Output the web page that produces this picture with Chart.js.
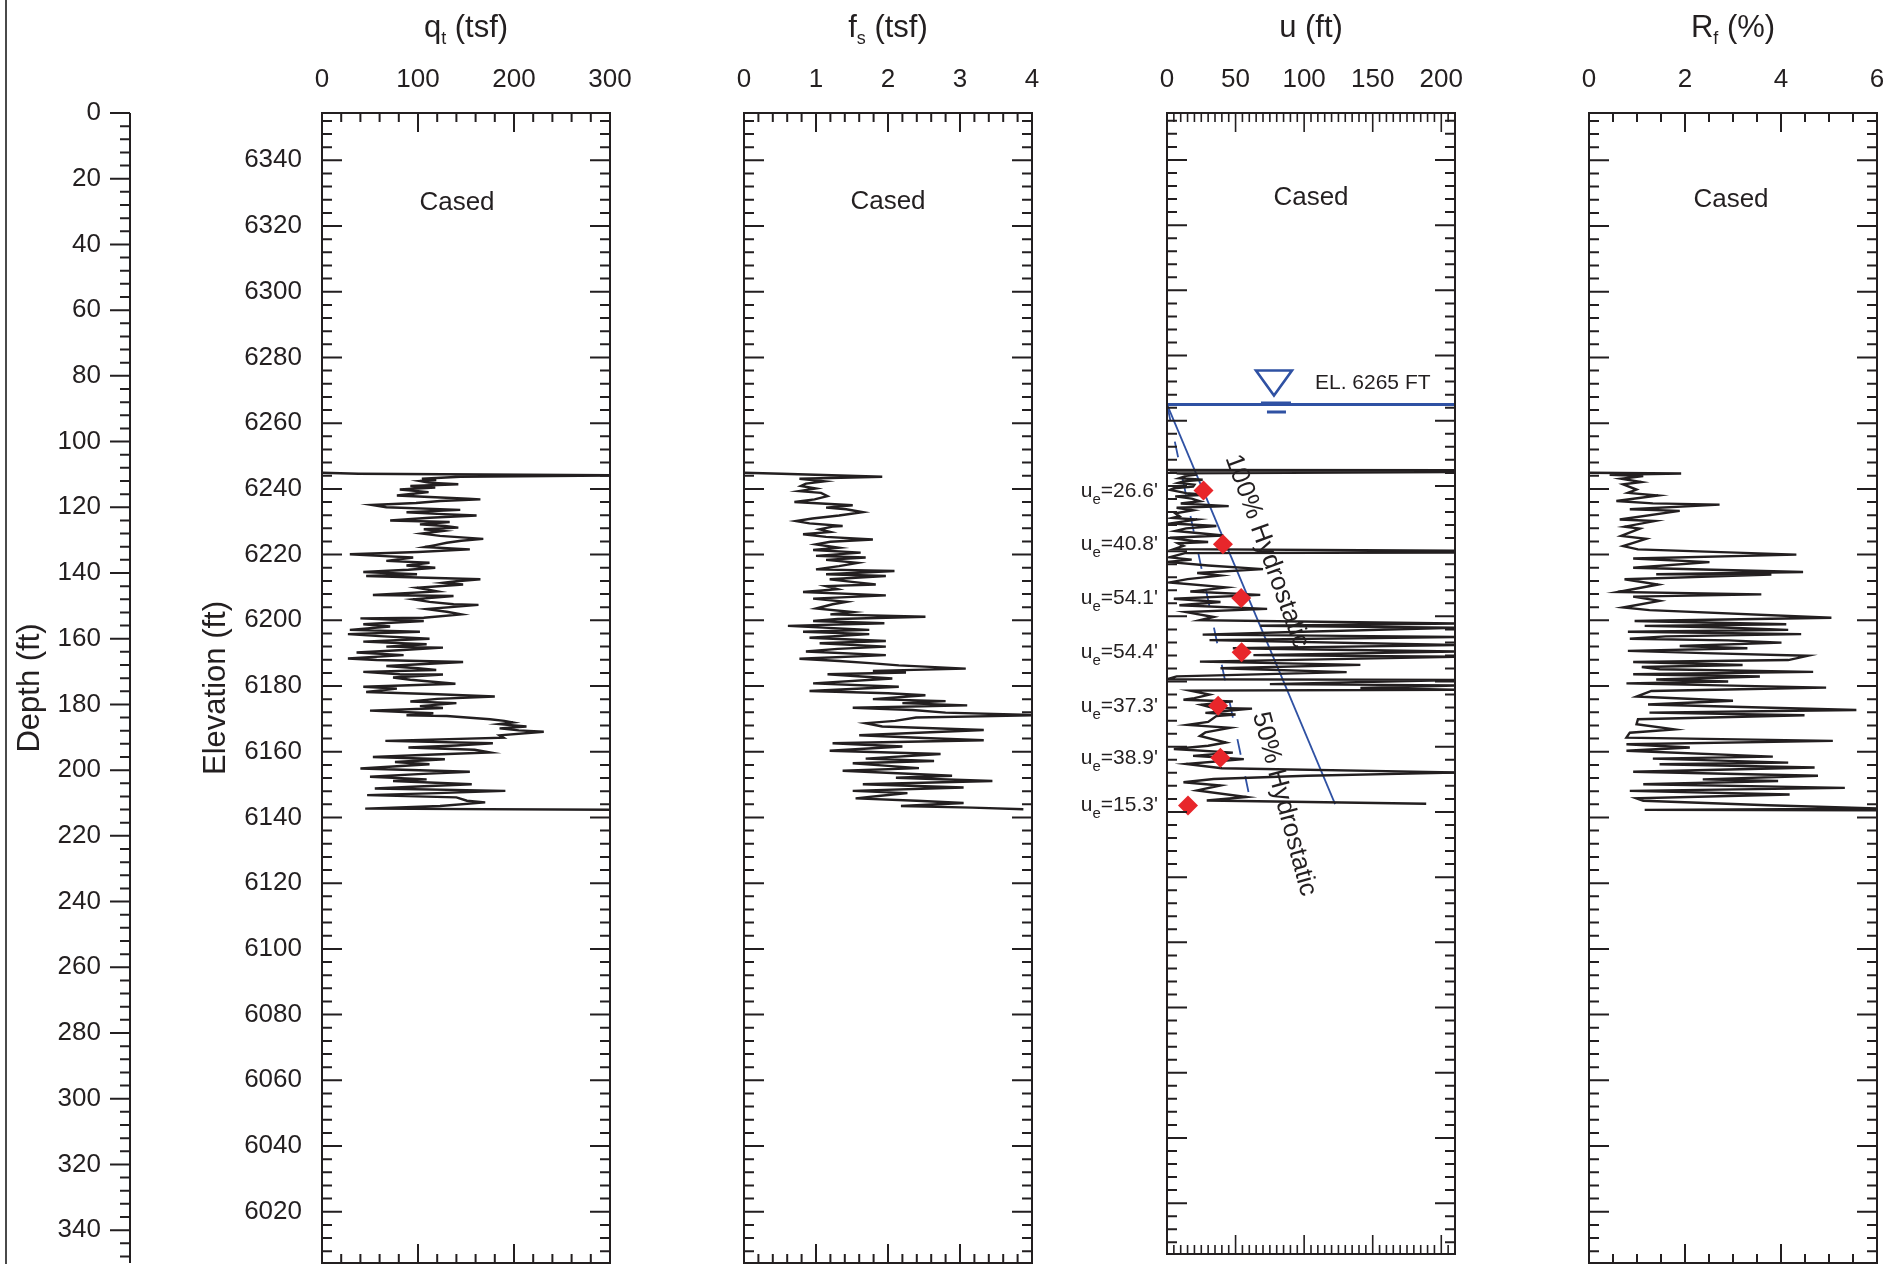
<!DOCTYPE html>
<html lang="en">
<head>
<meta charset="utf-8">
<title>CPT sounding log</title>
<script src="https://cdn.jsdelivr.net/npm/chart.js@4.4.1/dist/chart.umd.min.js"></script>
<style>
  html, body { margin: 0; padding: 0; background: #fff; }
  #sheet { position: relative; width: 1886px; height: 1264px; overflow: hidden; background: #fff; }
  #sheet canvas { position: absolute; top: 0; }
</style>
</head>
<body>
<div id="sheet">
  <canvas id="depthAxis" width="140" height="1264" style="left:0px"></canvas>
  <canvas id="qtChart" width="460" height="1264" style="left:180px"></canvas>
  <canvas id="fsChart" width="428" height="1264" style="left:634px"></canvas>
  <canvas id="uChart" width="428" height="1264" style="left:1057px"></canvas>
  <canvas id="rfChart" width="407" height="1264" style="left:1479px"></canvas>
</div>
<script>
// Sounding data, depth in ft below ground surface
const groundElevation = 6354.4
const waterElevation = 6265
const soundingEnd = 212

const depthTicks = [0, 20, 40, 60, 80, 100, 120, 140, 160, 180, 200, 220, 240, 260, 280, 300, 320, 340]
const elevationTicks = [6340, 6320, 6300, 6280, 6260, 6240, 6220, 6200, 6180, 6160, 6140, 6120, 6100, 6080, 6060, 6040, 6020]
const qtTicks = [0, 100, 200, 300]
const fsTicks = [0, 1, 2, 3, 4]
const uTicks = [0, 50, 100, 150, 200]
const rfTicks = [0, 2, 4, 6]

// cone resistance qt (tsf)
const qtDepth = [
  109.5, 109.8, 110.3, 110.7, 111.3, 111.7, 112.0, 112.5, 113.0, 113.5,
  114.0, 114.6, 115.4, 115.9, 116.4, 117.4, 117.6, 118.1, 118.7, 119.3,
  120.0, 120.8, 121.5, 122.0, 122.5, 123.2, 124.0, 124.5, 125.2, 125.7,
  126.2, 126.7, 127.2, 128.0, 128.7, 129.6, 130.2, 130.8, 131.5, 132.1,
  132.8, 133.6, 134.3, 134.8, 135.3, 136.3, 136.9, 137.7, 138.4, 139.0,
  139.7, 140.4, 140.9, 141.9, 142.5, 143.0, 143.5, 144.5, 145.6, 146.7,
  147.0, 148.0, 148.8, 149.5, 149.7, 151.0, 151.8, 152.6, 153.6, 153.8,
  154.6, 155.6, 156.3, 157.3, 157.9, 158.6, 159.2, 160.0, 160.9, 161.7,
  162.4, 162.7, 163.5, 164.2, 165.0, 166.0, 166.5, 167.1, 168.3, 169.0,
  169.5, 170.1, 170.8, 170.9, 171.8, 172.5, 173.7, 174.6, 175.2, 176.2,
  176.9, 177.6, 178.3, 179.1, 179.6, 180.5, 181.1, 181.9, 182.7, 183.3,
  183.5, 184.5, 185.0, 185.5, 186.0, 186.7, 187.3, 187.9, 188.3, 189.4,
  190.1, 191.1, 191.8, 192.5, 193.1, 193.8, 194.6, 195.3, 196.0, 196.7,
  197.5, 198.2, 199.5, 200.5, 201.2, 202.0, 202.8, 203.3, 204.3, 205.0,
  205.6, 206.3, 207.0, 207.6, 208.3, 209.3, 209.8, 210.9, 211.7, 212.1
]
const qtValue = [
  0, 38, 320, 144, 104, 119, 102, 111, 142, 92,
  118, 81, 111, 95, 78, 152, 165, 123, 98, 52,
  67, 144, 88, 120, 161, 112, 71, 133, 102, 128,
  142, 106, 126, 104, 123, 168, 145, 130, 118, 107,
  154, 100, 29, 60, 95, 67, 112, 88, 118, 90,
  43, 99, 46, 165, 140, 126, 147, 99, 120, 53,
  137, 95, 112, 137, 163, 109, 130, 145, 106, 40,
  106, 43, 71, 29, 102, 27, 60, 112, 43, 109,
  67, 126, 80, 36, 85, 27, 57, 147, 67, 100,
  119, 43, 81, 126, 74, 92, 139, 43, 78, 46,
  120, 180, 120, 92, 140, 102, 126, 50, 116, 88,
  130, 175, 190, 199, 185, 213, 185, 205, 231, 185,
  189, 66, 178, 140, 90, 159, 175, 110, 53, 128,
  76, 112, 40, 154, 100, 50, 109, 74, 156, 100,
  55, 191, 120, 47, 140, 151, 170, 123, 45, 320
]

// sleeve friction fs (tsf)
const fsDepth = [
  109.5, 109.8, 110.7, 111.3, 112.1, 112.8, 113.5, 114.3, 115.1, 115.6,
  116.6, 117.6, 118.4, 119.4, 120.1, 120.6, 121.5, 122.5, 123.4, 124.2,
  124.9, 125.7, 125.9, 126.7, 127.5, 128.2, 129.0, 129.8, 130.5, 131.3,
  132.3, 133.0, 133.8, 134.8, 135.3, 136.0, 136.9, 137.9, 138.9, 139.4,
  140.4, 140.9, 141.9, 142.7, 143.5, 144.0, 144.9, 145.8, 146.8, 147.8,
  148.8, 149.5, 150.8, 151.9, 152.6, 153.3, 154.0, 154.6, 155.3, 156.1,
  157.3, 157.9, 158.6, 159.7, 160.7, 161.4, 162.4, 163.1, 163.9, 165.0,
  166.1, 166.8, 167.5, 168.1, 169.1, 169.8, 170.3, 170.8, 172.1, 173.6,
  174.6, 175.9, 176.6, 177.2, 178.4, 179.0, 179.6, 180.3, 181.0, 181.7,
  182.5, 183.3, 184.0, 185.0, 185.7, 186.7, 187.8, 189.4, 190.2, 190.9,
  191.8, 192.8, 194.1, 195.1, 196.5, 197.2, 197.9, 198.7, 199.4, 200.2,
  201.7, 202.3, 203.3, 204.3, 205.3, 206.3, 207.0, 207.8, 208.6, 209.3,
  210.0, 210.9, 211.4, 211.9
]
const fsValue = [
  0, 0.52, 1.92, 0.77, 1.12, 0.86, 0.79, 1.00, 0.77, 1.07,
  1.16, 0.98, 0.70, 1.51, 1.14, 1.42, 1.65, 1.32, 0.95, 0.72,
  0.91, 1.37, 1.23, 1.05, 1.20, 0.82, 1.14, 1.79, 1.20, 1.00,
  1.32, 0.96, 1.62, 1.00, 1.69, 1.14, 1.58, 1.32, 1.00, 2.09,
  1.14, 1.97, 1.19, 1.50, 1.83, 1.14, 1.30, 0.82, 1.97, 0.96,
  1.42, 1.23, 1.00, 1.51, 1.20, 2.52, 1.30, 0.96, 1.95, 0.61,
  1.74, 0.82, 1.74, 0.91, 1.97, 1.05, 1.97, 1.30, 0.86, 1.97,
  0.77, 1.32, 1.80, 2.15, 3.08, 1.79, 2.25, 1.16, 2.06, 0.96,
  2.15, 0.91, 2.00, 2.52, 1.79, 2.80, 2.20, 3.10, 1.51, 2.34,
  2.80, 4.10, 2.39, 2.10, 1.69, 1.92, 3.33, 1.60, 2.50, 3.33,
  1.23, 2.20, 1.19, 2.73, 1.69, 2.64, 1.51, 2.00, 2.43, 1.37,
  2.89, 2.11, 3.45, 1.65, 3.05, 1.51, 2.27, 1.90, 1.55, 2.40,
  3.05, 2.18, 3.17, 3.88
]

// pore pressure u (ft of water)
const uDepth = [
  109.5, 109.6, 109.9, 110.1, 110.5, 110.9, 111.3, 112.0, 112.5, 113.0,
  113.5, 114.0, 114.6, 115.1, 115.6, 116.6, 117.1, 117.6, 118.3, 119.1,
  119.8, 120.6, 121.1, 121.9, 122.8, 123.7, 124.2, 124.7, 125.9, 126.7,
  127.4, 128.2, 128.9, 129.6, 130.3, 131.3, 131.6, 132.0, 132.8, 133.8,
  134.3, 134.8, 135.0, 136.3, 137.0, 137.7, 138.8, 139.9, 141.1, 141.9,
  143.0, 144.0, 145.5, 146.8, 147.8, 149.0, 150.0, 151.0, 152.1, 153.1,
  154.6, 155.6, 156.6, 157.3, 157.9, 159.2, 160.0, 160.7, 161.7, 163.2,
  164.2, 165.2, 166.3, 166.8, 168.3, 169.3, 170.3, 171.5, 172.8, 173.7,
  173.9, 175.2, 175.6, 176.4, 176.9, 177.2, 178.4, 179.5, 180.0, 180.5,
  181.5, 182.5, 182.7, 184.0, 184.5, 185.0, 186.8, 187.7, 188.6, 190.0,
  191.1, 193.1, 194.1, 195.1, 196.2, 197.2, 198.2, 199.7, 201.0, 202.3,
  203.3, 204.3, 205.3, 206.3, 207.8, 209.8, 210.9, 211.9
]
const uValue = [
  0, 214, 2, 214, 7, 22, 14, 9, 26, 12,
  8, 20, 19, 5, 2, 14, 28, 6, 18, 24,
  10, 45, 7, 19, 6, 9, 4, 22, 3, 36,
  14, 6, 24, 41, 2, 19, 30, 8, 12, 5,
  214, 214, 13, 2, 18, 0, 30, 70, 22, 39,
  15, 2, 43, 17, 68, 5, 39, 9, 73, 14,
  34, 24, 214, 68, 214, 92, 26, 214, 31, 214,
  48, 214, 63, 214, 24, 141, 39, 131, 7, 0,
  214, 75, 214, 141, 214, 17, 31, 20, 12, 48,
  25, 34, 62, 28, 50, 36, 30, 15, 46, 28,
  24, 43, 30, 5, 48, 19, 56, 14, 40, 214,
  102, 34, 12, 39, 22, 58, 29, 189
]

// friction ratio Rf (%)
const rfDepth = [
  109.5, 109.7, 110.1, 110.5, 111.3, 112.3, 113.0, 114.6, 115.6, 116.4,
  118.1, 118.8, 119.2, 120.6, 121.1, 123.7, 124.2, 125.9, 126.5, 128.7,
  129.6, 131.8, 132.8, 134.4, 135.6, 136.7, 138.4, 139.7, 140.4, 140.5,
  141.9, 143.5, 145.8, 146.5, 147.2, 148.5, 150.5, 151.3, 153.6, 154.6,
  155.6, 156.1, 156.6, 157.3, 157.9, 158.6, 159.3, 160.0, 160.5, 161.2,
  162.2, 162.9, 163.7, 164.4, 165.2, 166.5, 167.1, 168.0, 168.6, 169.3,
  170.1, 170.8, 171.5, 172.4, 173.0, 173.6, 174.9, 175.4, 175.9, 177.6,
  178.9, 180.0, 181.7, 182.5, 183.3, 184.5, 186.0, 187.6, 188.6, 190.1,
  191.1, 192.1, 193.1, 194.1, 195.9, 196.5, 197.7, 198.2, 199.2, 200.5,
  201.7, 202.8, 203.3, 204.3, 205.4, 206.3, 207.4, 208.6, 209.3, 210.7,
  211.7, 212.1, 212.2
]
const rfValue = [
  0, 1.92, 0.43, 1.13, 0.67, 1.09, 0.71, 0.99, 0.81, 1.44,
  0.57, 1.33, 2.72, 0.85, 1.89, 0.64, 1.37, 0.74, 1.06, 0.67,
  1.19, 0.71, 1.02, 4.32, 0.92, 2.51, 0.92, 4.46, 1.40, 3.80,
  0.74, 1.44, 0.60, 3.59, 0.92, 1.47, 0.71, 1.26, 5.05, 0.95,
  4.11, 1.16, 2.80, 4.15, 0.81, 4.42, 1.60, 0.85, 2.90, 4.01,
  1.89, 3.30, 0.81, 2.40, 4.56, 4.15, 0.92, 3.20, 1.10, 1.47,
  4.67, 0.92, 3.56, 1.40, 2.90, 0.78, 4.94, 3.14, 1.30, 0.99,
  3.00, 1.23, 5.57, 1.26, 4.49, 1.02, 0.99, 1.78, 0.85, 0.78,
  5.08, 0.78, 2.10, 0.78, 3.83, 1.33, 4.15, 1.47, 4.70, 0.92,
  4.77, 2.37, 3.94, 1.13, 5.33, 0.85, 4.18, 0.99, 1.13, 3.73,
  6.06, 1.16, 6.50
]

// pore pressure dissipation tests: depth (ft) and equilibrium head ue (ft)
const dissipationDepth = [115.8, 132.3, 148.8, 165.4, 181.8, 197.8, 212.4]
const ueValues = [26.6, 40.8, 54.1, 54.4, 37.3, 38.9, 15.3]

// ---- look ----
const INK = '#231f20'
const BLUE = '#2f51a3'
const RED = '#e8262b'
const FONT = "'Liberation Sans', Arial, Helvetica, sans-serif"
const DEPTH_MAX = 350
const PLOT_TOP = 113
const WATER_MARK_U = 78

Chart.defaults.font.family = FONT
Chart.defaults.color = INK

const font = px => px + 'px ' + FONT
const waterDepth = groundElevation - waterElevation
const pts = (depth, value) => depth.map((d, i) => ({ x: value[i], y: d }))

function traceSet (depth, value) {
  return {
    data: pts(depth, value),
    showLine: true,
    borderColor: INK,
    borderWidth: 2.4,
    pointRadius: 0,
    tension: 0
  }
}

function drawTitle (ctx, cx, y, main, sub, rest) {
  ctx.font = font(31)
  const w1 = ctx.measureText(main).width
  const w3 = ctx.measureText(rest).width
  ctx.font = font(18)
  const w2 = sub ? ctx.measureText(sub).width : 0
  let x = cx - (w1 + w2 + w3) / 2
  ctx.textAlign = 'left'
  ctx.textBaseline = 'alphabetic'
  ctx.font = font(31)
  ctx.fillText(main, x, y)
  x += w1
  if (sub) {
    ctx.font = font(18)
    ctx.fillText(sub, x, y + 7)
    x += w2
  }
  ctx.font = font(31)
  ctx.fillText(rest, x, y)
}

// box around a panel with inward tick marks (elevation ticks on the sides)
function panelFrame (xTicks, xMinorStep, xMax) {
  return {
    id: 'panelFrame',
    afterDatasetsDraw (chart) {
      const { ctx, chartArea: a } = chart
      const xs = chart.scales.x
      const ys = chart.scales.y
      ctx.save()
      ctx.strokeStyle = INK
      ctx.lineWidth = 2
      ctx.beginPath()
      for (let e = Math.floor(groundElevation / 4) * 4; e > groundElevation - DEPTH_MAX; e -= 4) {
        const len = e % 20 === 0 ? 20 : 10
        const py = ys.getPixelForValue(groundElevation - e)
        ctx.moveTo(a.left, py); ctx.lineTo(a.left + len, py)
        ctx.moveTo(a.right, py); ctx.lineTo(a.right - len, py)
      }
      ctx.stroke()
      ctx.lineWidth = xMax / xMinorStep > 30 ? 1.6 : 2
      ctx.beginPath()
      const n = Math.round(xMax / xMinorStep)
      for (let i = 1; i < n; i++) {
        const v = i * xMinorStep
        const len = xTicks.some(t => Math.abs(t - v) < 1e-6) ? 19 : 9
        const px = xs.getPixelForValue(v)
        ctx.moveTo(px, a.top); ctx.lineTo(px, a.top + len)
        ctx.moveTo(px, a.bottom); ctx.lineTo(px, a.bottom - len)
      }
      ctx.stroke()
      ctx.lineWidth = 2
      ctx.strokeRect(a.left, a.top, a.right - a.left, a.bottom - a.top)
      ctx.restore()
    }
  }
}

function panelText (title, casedShift, casedBaseline, extra) {
  return {
    id: 'panelText',
    afterDraw (chart) {
      const { ctx, chartArea: a } = chart
      const cx = (a.left + a.right) / 2
      ctx.save()
      ctx.fillStyle = INK
      drawTitle(ctx, cx, 37, title[0], title[1], title[2])
      ctx.font = font(26)
      ctx.textAlign = 'center'
      ctx.fillText('Cased', cx + casedShift, casedBaseline)
      if (extra) extra(chart, ctx)
      ctx.restore()
    }
  }
}

function makePanel (canvasId, p) {
  const scales = {
    x: {
      type: 'linear',
      position: 'top',
      min: 0,
      max: p.xMax,
      afterBuildTicks: ax => { ax.ticks = p.xTicks.map(v => ({ value: v })) },
      afterFit: ax => { ax.height = PLOT_TOP; ax.paddingLeft = 0; ax.paddingRight = 0 },
      grid: { display: false, drawTicks: false },
      border: { display: false },
      ticks: { font: { size: 26 }, color: INK, padding: 18, maxRotation: 0, autoSkip: false, callback: v => String(v) }
    },
    y: { type: 'linear', reverse: true, min: 0, max: DEPTH_MAX, display: false }
  }
  if (p.elevation) {
    scales.elev = {
      type: 'linear',
      position: 'left',
      min: groundElevation - DEPTH_MAX,
      max: groundElevation,
      afterBuildTicks: ax => { ax.ticks = elevationTicks.map(v => ({ value: v })) },
      afterFit: ax => { ax.width = p.padLeft; ax.paddingTop = 0; ax.paddingBottom = 0 },
      grid: { display: false, drawTicks: false },
      border: { display: false },
      ticks: { font: { size: 26 }, color: INK, padding: 20, autoSkip: false, callback: v => String(v) },
      title: { display: true, text: 'Elevation (ft)', font: { size: 31 }, color: INK, padding: { top: 18, bottom: 0 } }
    }
  }
  return new Chart(document.getElementById(canvasId), {
    type: 'scatter',
    data: { datasets: p.datasets },
    options: {
      responsive: false,
      animation: false,
      devicePixelRatio: 1,
      events: [],
      layout: { padding: { left: p.elevation ? 0 : p.padLeft, right: p.padRight, top: 0, bottom: 1 } },
      plugins: { legend: { display: false }, tooltip: { enabled: false } },
      scales
    },
    plugins: [panelFrame(p.xTicks, p.xMinorStep, p.xMax), panelText(p.title, p.casedShift, p.casedBaseline, p.extra)]
  })
}

// ---- depth axis on the far left ----
new Chart(document.getElementById('depthAxis'), {
  type: 'scatter',
  data: { datasets: [] },
  options: {
    responsive: false,
    animation: false,
    devicePixelRatio: 1,
    events: [],
    layout: { padding: { left: 0, right: 0, top: PLOT_TOP, bottom: 1 } },
    plugins: { legend: { display: false }, tooltip: { enabled: false } },
    scales: {
      x: { type: 'linear', display: false, min: 0, max: 1 },
      y: {
        type: 'linear',
        position: 'left',
        reverse: true,
        min: 0,
        max: DEPTH_MAX,
        afterBuildTicks: ax => { ax.ticks = depthTicks.map(v => ({ value: v })) },
        afterFit: ax => { ax.width = 130; ax.paddingTop = 0; ax.paddingBottom = 0 },
        grid: { display: false, drawTicks: false },
        border: { display: false },
        ticks: { font: { size: 26 }, color: INK, padding: 29, autoSkip: false, callback: v => String(v) },
        title: { display: true, text: 'Depth (ft)', font: { size: 31 }, color: INK, padding: { top: 12, bottom: 0 } }
      }
    }
  },
  plugins: [{
    id: 'depthLine',
    afterDraw (chart) {
      const { ctx, chartArea: a } = chart
      const ys = chart.scales.y
      ctx.save()
      ctx.strokeStyle = '#4a4a4a'
      ctx.lineWidth = 2
      ctx.beginPath()
      ctx.moveTo(6, 0); ctx.lineTo(6, chart.height)
      ctx.stroke()
      ctx.strokeStyle = INK
      ctx.beginPath()
      ctx.moveTo(a.left, a.top); ctx.lineTo(a.left, a.bottom)
      for (let d = 0; d < DEPTH_MAX; d += 4) {
        const len = d % 20 === 0 ? 20 : 10
        const py = ys.getPixelForValue(d)
        ctx.moveTo(a.left, py); ctx.lineTo(a.left - len, py)
      }
      ctx.stroke()
      ctx.restore()
    }
  }]
})

// ---- qt ----
makePanel('qtChart', {
  xMax: 300, xTicks: qtTicks, xMinorStep: 20,
  padLeft: 142, padRight: 30, elevation: true,
  title: ['q', 't', ' (tsf)'], casedShift: -9, casedBaseline: 210,
  datasets: [traceSet(qtDepth, qtValue)]
})

// ---- fs ----
makePanel('fsChart', {
  xMax: 4, xTicks: fsTicks, xMinorStep: 0.2,
  padLeft: 110, padRight: 30,
  title: ['f', 's', ' (tsf)'], casedShift: 0, casedBaseline: 209,
  datasets: [traceSet(fsDepth, fsValue)]
})

// ---- u ----
function rotatedLabel (ctx, p0, p1, along, perp, angleDeg, text) {
  const t = Math.atan2(p1.y - p0.y, p1.x - p0.x)
  const dx = Math.cos(t)
  const dy = Math.sin(t)
  const x = p0.x + along * dx + perp * dy
  const y = p0.y + along * dy - perp * dx
  ctx.save()
  ctx.translate(x, y)
  ctx.rotate(angleDeg * Math.PI / 180)
  ctx.textAlign = 'left'
  ctx.textBaseline = 'alphabetic'
  ctx.fillText(text, 0, 0)
  ctx.restore()
}

function uExtras (chart, ctx) {
  const { chartArea: a } = chart
  const xs = chart.scales.x
  const ys = chart.scales.y

  // dissipation labels
  dissipationDepth.forEach((d, i) => {
    const y = ys.getPixelForValue(d)
    const rest = '=' + ueValues[i].toFixed(1) + "'"
    ctx.font = font(21)
    const wu = ctx.measureText('u').width
    const wr = ctx.measureText(rest).width
    ctx.font = font(15)
    const we = ctx.measureText('e').width
    let x = a.left - 9 - (wu + we + wr)
    ctx.textAlign = 'left'
    ctx.font = font(21)
    ctx.fillText('u', x, y + 6)
    x += wu
    ctx.font = font(15)
    ctx.fillText('e', x, y + 13)
    x += we
    ctx.font = font(21)
    ctx.fillText(rest, x, y + 6)
  })

  // water table symbol
  const yl = ys.getPixelForValue(waterDepth)
  const xc = xs.getPixelForValue(WATER_MARK_U)
  ctx.strokeStyle = BLUE
  ctx.lineWidth = 2.6
  ctx.beginPath()
  ctx.moveTo(xc - 18, yl - 34); ctx.lineTo(xc + 18, yl - 34); ctx.lineTo(xc, yl - 9); ctx.closePath()
  ctx.stroke()
  ctx.lineWidth = 3
  ctx.beginPath()
  ctx.moveTo(xc - 13, yl - 1.5); ctx.lineTo(xc + 17, yl - 1.5)
  ctx.moveTo(xc - 7, yl + 7.5); ctx.lineTo(xc + 12, yl + 7.5)
  ctx.stroke()
  ctx.font = font(21)
  ctx.textAlign = 'left'
  ctx.fillText('EL. ' + waterElevation + ' FT', xc + 41, yl - 15)

  // hydrostatic labels along their lines
  const p0 = { x: xs.getPixelForValue(0), y: yl }
  const p100 = { x: xs.getPixelForValue(soundingEnd - waterDepth), y: ys.getPixelForValue(soundingEnd) }
  const p50 = { x: xs.getPixelForValue(0.5 * (soundingEnd - waterDepth)), y: ys.getPixelForValue(soundingEnd) }
  ctx.font = font(26)
  rotatedLabel(ctx, p0, p100, 72, 33, 70, '100% Hydrostatic')
  rotatedLabel(ctx, p0, p50, 321, 20, 75, '50% Hydrostatic')
}

makePanel('uChart', {
  xMax: 210, xTicks: uTicks, xMinorStep: 5,
  padLeft: 110, padRight: 30,
  title: ['u (ft)', '', ''], casedShift: 0, casedBaseline: 205,
  extra: uExtras,
  datasets: [
    {
      data: pts(dissipationDepth, ueValues),
      pointStyle: 'rectRot',
      pointRadius: 10,
      backgroundColor: RED,
      borderColor: RED,
      borderWidth: 0,
      showLine: false
    },
    traceSet(uDepth, uValue),
    {
      data: [{ x: 0, y: waterDepth }, { x: 210, y: waterDepth }],
      showLine: true, borderColor: BLUE, borderWidth: 3, pointRadius: 0
    },
    {
      data: [{ x: 0, y: waterDepth }, { x: soundingEnd - waterDepth, y: soundingEnd }],
      showLine: true, borderColor: BLUE, borderWidth: 1.8, pointRadius: 0
    },
    {
      data: [{ x: 0, y: waterDepth }, { x: 0.5 * (soundingEnd - waterDepth), y: soundingEnd }],
      showLine: true, borderColor: BLUE, borderWidth: 1.8, borderDash: [16, 22], pointRadius: 0
    }
  ]
})

// ---- Rf ----
makePanel('rfChart', {
  xMax: 6, xTicks: rfTicks, xMinorStep: 0.5,
  padLeft: 110, padRight: 9,
  title: ['R', 'f', ' (%)'], casedShift: -2, casedBaseline: 207,
  datasets: [traceSet(rfDepth, rfValue)]
})
</script>
</body>
</html>
